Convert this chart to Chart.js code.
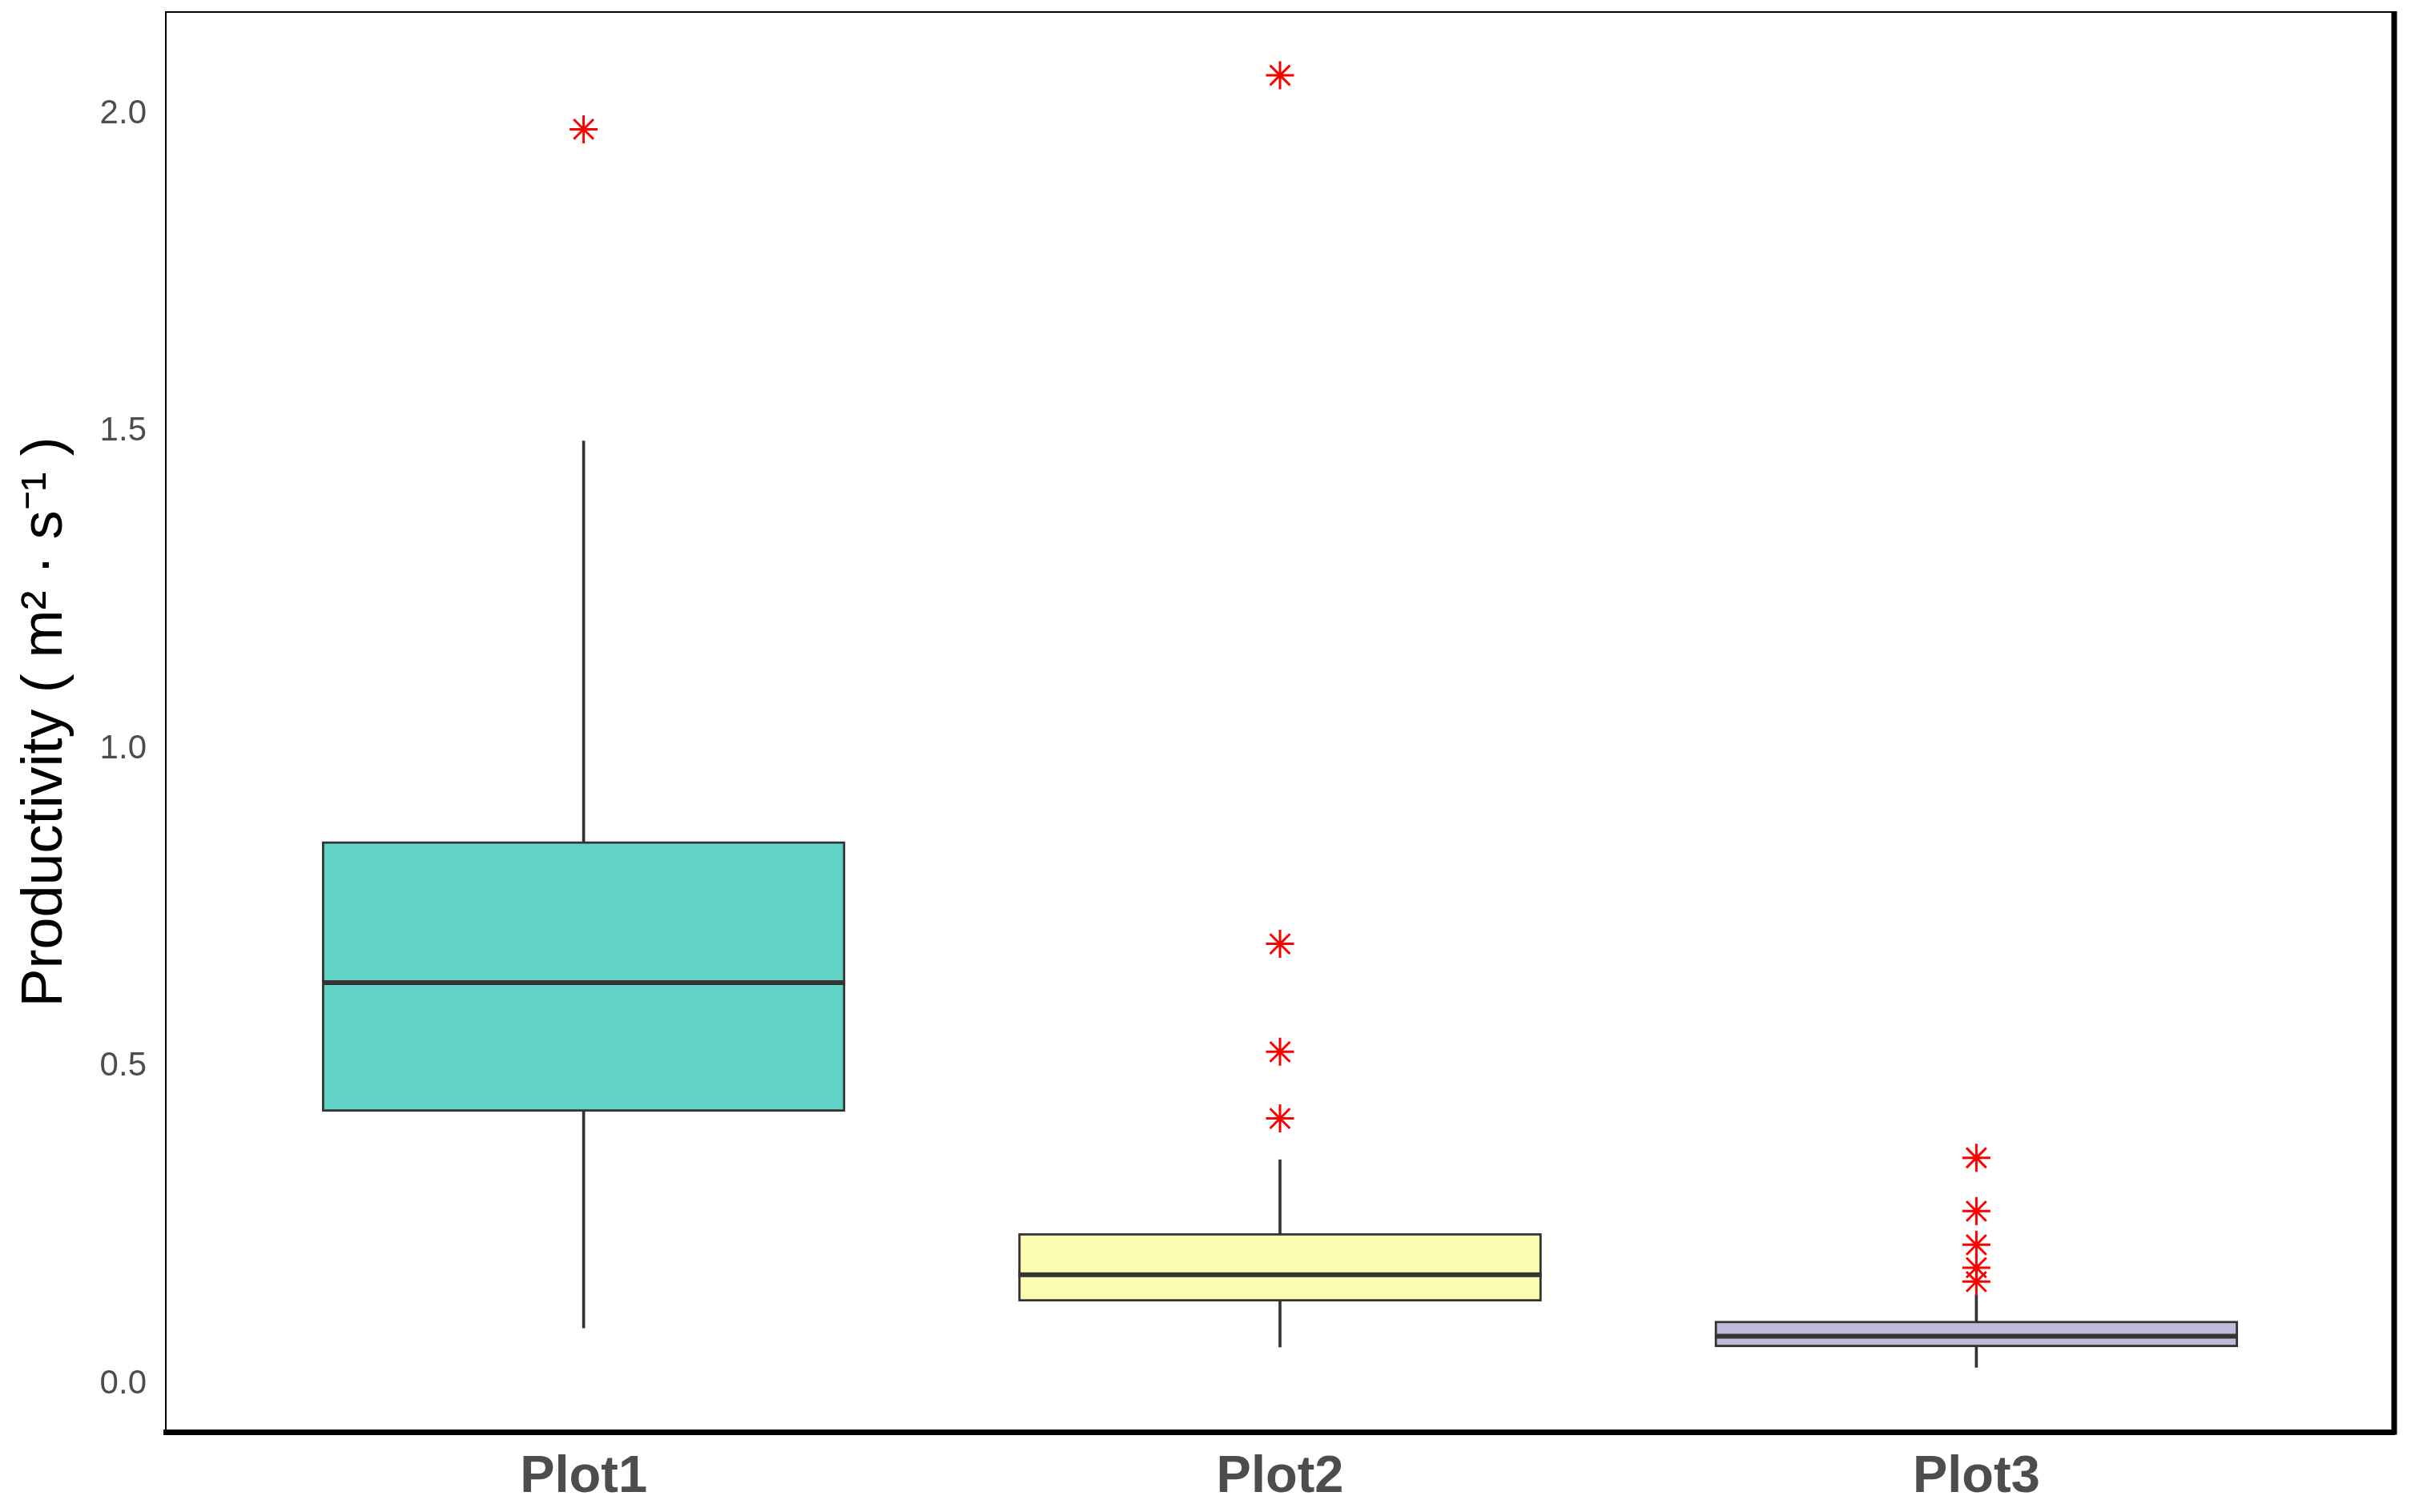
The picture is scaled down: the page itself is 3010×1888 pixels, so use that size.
<!DOCTYPE html>
<html><head><meta charset="utf-8">
<script src="https://cdn.jsdelivr.net/npm/chart.js@4"></script>
<style>html,body{margin:0;padding:0;background:#fff}#wrap{width:3010px;height:1888px}</style>
</head><body><div id="wrap"><canvas id="c" width="3010" height="1888"></canvas></div>
<script>
const categories = ['Plot1', 'Plot2', 'Plot3'];
const whiskerLow  = [0.083, 0.053, 0.021];
const q1          = [0.424, 0.125, 0.053];
const median      = [0.627, 0.167, 0.070];
const q3          = [0.849, 0.232, 0.094];
const whiskerHigh = [1.480, 0.348, 0.135];
const outliers = [
  [1.971],
  [2.056, 0.688, 0.518, 0.413],
  [0.351, 0.267, 0.214, 0.178, 0.156]
];
const yTicks = [0.0, 0.5, 1.0, 1.5, 2.0];
const boxColors = ['#61D4C7', '#FDFDB1', '#BFBBDA'];

const BOX_W = 653;

const frame = {
  id: 'frame',
  afterDraw(chart) {
    const { ctx, chartArea: a } = chart;
    ctx.save();
    ctx.strokeStyle = '#000';
    ctx.lineWidth = 2;
    ctx.beginPath(); ctx.moveTo(a.left - 1, a.top); ctx.lineTo(a.right, a.top); ctx.stroke();
    ctx.lineWidth = 7;
    ctx.beginPath(); ctx.moveTo(a.right, a.top - 1); ctx.lineTo(a.right, a.bottom + 3.5); ctx.stroke();
    ctx.restore();
  }
};

const noPad = s => { s.paddingTop = 0; s.paddingBottom = 0; s.paddingLeft = 0; s.paddingRight = 0; };

const outlierPoints = [];
outliers.forEach((arr, i) => arr.forEach(v => outlierPoints.push({ x: i + 1, y: v })));

new Chart(document.getElementById('c'), {
  type: 'bar',
  data: {
    datasets: [
      {
        type: 'line', label: 'outliers', order: 0,
        data: outlierPoints, showLine: false,
        pointStyle: 'star', pointRadius: 17.5, pointBorderWidth: 3,
        pointBorderColor: '#FF0000', pointBackgroundColor: '#FF0000'
      },
      {
        type: 'line', label: 'median', order: 1,
        data: median.map((v, i) => ({ x: i + 1, y: v })), showLine: false,
        pointStyle: 'line', pointRadius: BOX_W / 2, pointBorderWidth: 6,
        pointBorderColor: '#333333'
      },
      {
        type: 'bar', label: 'box', order: 2, grouped: false,
        data: q1.map((v, i) => ({ x: i + 1, y: [v, q3[i]] })),
        backgroundColor: boxColors, borderColor: '#333333', borderWidth: 3,
        borderSkipped: false, barThickness: BOX_W
      },
      {
        type: 'bar', label: 'whisker', order: 3, grouped: false,
        data: whiskerLow.map((v, i) => ({ x: i + 1, y: [v, whiskerHigh[i]] })),
        backgroundColor: '#333333', borderWidth: 0, barThickness: 3
      }
    ]
  },
  options: {
    responsive: false, animation: false, devicePixelRatio: 1,
    layout: { autoPadding: false, padding: { top: 15, right: 21, left: 0, bottom: 0 } },
    plugins: { legend: { display: false }, tooltip: { enabled: false } },
    scales: {
      x: {
        type: 'linear', min: 0.4, max: 3.6, offset: false,
        afterBuildTicks: s => { s.ticks = categories.map((c, i) => ({ value: i + 1 })); },
        afterFit: s => { s.height = 100; noPad(s); },
        ticks: {
          callback: v => categories[Math.round(v) - 1],
          font: { family: 'Liberation Sans, Arial, sans-serif', size: 65, weight: 'bold' },
          color: '#4d4d4d', padding: 18, autoSkip: false, maxRotation: 0
        },
        grid: { display: false, drawTicks: false },
        border: { display: true, color: '#000', width: 7 }
      },
      y: {
        type: 'linear', min: -0.0807, max: 2.1557,
        afterBuildTicks: s => { s.ticks = yTicks.map(v => ({ value: v })); },
        afterFit: s => { s.width = 207; noPad(s); },
        ticks: {
          callback: v => Number(v).toFixed(1),
          font: { family: 'Liberation Sans, Arial, sans-serif', size: 42 },
          color: '#4d4d4d', padding: 24, labelOffset: 4
        },
        grid: { display: false, drawTicks: false },
        border: { display: true, color: '#000', width: 2 },
        title: {
          display: true, text: 'Productivity ( m² · s⁻¹ )', color: '#000',
          font: { family: 'Liberation Sans, Arial, sans-serif', size: 72 },
          padding: { top: 14, bottom: 0 }
        }
      }
    }
  },
  plugins: [frame]
});
</script>
</body></html>
